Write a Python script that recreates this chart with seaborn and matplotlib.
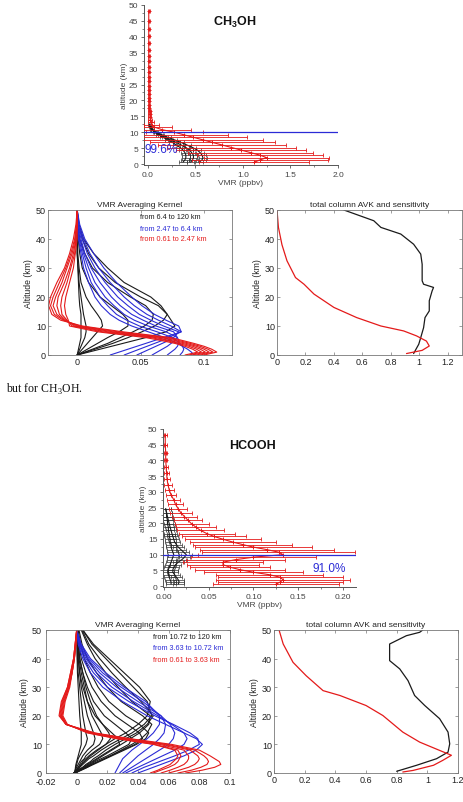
import numpy as np
import pandas as pd
import matplotlib
matplotlib.use("Agg")
import matplotlib.pyplot as plt
import seaborn as sns

# ---------------- data ----------------
# profile levels (km)
lev = [0.6, 1.3, 2.0, 2.8, 3.6, 4.4, 5.2, 6.0, 6.8, 7.6, 8.4, 9.2, 10.0, 10.8, 11.6, 12.4, 13.2, 14.0,
       14.9, 15.8, 16.7, 17.7, 18.7, 19.8, 20.9, 22.1, 23.3, 24.6, 26.0, 27.5, 29.0, 30.6, 32.3, 34.1,
       36.0, 38.0, 40.2, 42.5, 45.0, 48.0]

# CH3OH profile (ppbv)
ch3oh_red = [1.12, 1.18, 1.25, 1.18, 1.08, 0.98, 0.88, 0.78, 0.68, 0.58, 0.48, 0.38, 0.28, 0.15, 0.07,
             0.04, 0.03, 0.025, 0.022, 0.02, 0.018, 0.016, 0.015, 0.014, 0.013, 0.012, 0.012, 0.011,
             0.011, 0.010, 0.010, 0.010, 0.010, 0.010, 0.010, 0.010, 0.010, 0.010, 0.010, 0.010]
ch3oh_red_err = [0.58, 0.72, 0.66, 0.66, 0.66, 0.68, 0.68, 0.67, 0.66, 0.63, 0.56, 0.46, 0.30, 0.30,
                 0.18, 0.08, 0.03, 0.02, 0.015, 0.013, 0.012, 0.011, 0.01, 0.01, 0.01, 0.01, 0.01,
                 0.01, 0.01, 0.01, 0.01, 0.01, 0.01, 0.01, 0.01, 0.01, 0.01, 0.01, 0.01, 0.01]
ch3oh_blk1 = [0.37, 0.39, 0.40, 0.40, 0.39, 0.37, 0.34, 0.30, 0.26, 0.21, 0.16, 0.11, 0.07, 0.04, 0.025, 0.015]
ch3oh_blk2 = [0.45, 0.47, 0.48, 0.48, 0.46, 0.44, 0.40, 0.35, 0.30, 0.24, 0.18, 0.13, 0.08, 0.05, 0.03, 0.02]
ch3oh_blk3 = [0.54, 0.57, 0.58, 0.57, 0.55, 0.52, 0.47, 0.41, 0.35, 0.28, 0.21, 0.15, 0.09, 0.05, 0.03, 0.02]
ch3oh_blk_err = [0.04, 0.04, 0.04, 0.04, 0.04, 0.04, 0.04, 0.04, 0.035, 0.03, 0.03, 0.025, 0.02, 0.015, 0.01, 0.01]

# HCOOH profile (ppbv)
hcooh_red = [0.125, 0.130, 0.133, 0.130, 0.118, 0.100, 0.085, 0.074, 0.066, 0.066, 0.080, 0.100, 0.133,
             0.128, 0.115, 0.100, 0.088, 0.077, 0.066, 0.056, 0.048, 0.041, 0.036, 0.031, 0.027, 0.023,
             0.019, 0.016, 0.013, 0.011, 0.008, 0.006, 0.0045, 0.0035, 0.003, 0.0025, 0.002, 0.002,
             0.0015, 0.0015]
hcooh_red_err = [0.07, 0.07, 0.075, 0.07, 0.06, 0.055, 0.05, 0.045, 0.04, 0.045, 0.055, 0.07, 0.095,
                 0.085, 0.075, 0.065, 0.055, 0.048, 0.042, 0.036, 0.031, 0.026, 0.022, 0.019, 0.016,
                 0.014, 0.012, 0.010, 0.008, 0.007, 0.006, 0.005, 0.004, 0.003, 0.0025, 0.002, 0.002,
                 0.0015, 0.0015, 0.0015]
hcooh_blk1 = [0.008, 0.008, 0.007, 0.006, 0.005, 0.005, 0.005, 0.006, 0.007, 0.008, 0.009, 0.010, 0.011,
              0.010, 0.009, 0.008, 0.008, 0.007, 0.007, 0.006, 0.006, 0.005, 0.005, 0.004, 0.004, 0.003,
              0.003, 0.002]
hcooh_blk2 = [0.016, 0.017, 0.016, 0.014, 0.012, 0.010, 0.010, 0.011, 0.013, 0.016, 0.020, 0.023, 0.025,
              0.022, 0.019, 0.016, 0.014, 0.012, 0.011, 0.010, 0.009, 0.008, 0.007, 0.006, 0.005, 0.004,
              0.003, 0.002]
hcooh_blk_err = 0.006

# averaging kernels: altitude grid (km)
zk = [0, 1, 2, 3, 4, 5, 6, 8, 10, 12, 14, 17, 20, 25, 30, 35, 40, 45, 50]

ch3oh_avk_black = [
    [0, 0.0005, 0.001, 0.0015, 0.002, 0.0025, 0.003, 0.003, 0.003, 0.003, 0.003, 0.002, 0.0015, 0.001, 0.0005, 0, 0, 0, 0],
    [0, 0.001, 0.002, 0.003, 0.004, 0.005, 0.006, 0.007, 0.007, 0.006, 0.005, 0.004, 0.003, 0.0015, 0.0008, 0, 0, 0, 0],
    [0, 0.002, 0.004, 0.006, 0.008, 0.010, 0.012, 0.016, 0.020, 0.019, 0.016, 0.011, 0.007, 0.003, 0.0015, 0.0005, 0, 0, 0],
    [0, 0.004, 0.008, 0.012, 0.016, 0.020, 0.024, 0.033, 0.040, 0.040, 0.036, 0.027, 0.018, 0.009, 0.004, 0.002, 0.0008, 0, 0],
    [0, 0.006, 0.012, 0.018, 0.024, 0.029, 0.034, 0.044, 0.053, 0.059, 0.060, 0.054, 0.042, 0.024, 0.012, 0.006, 0.002, 0.0005, 0],
    [0, 0.007, 0.014, 0.021, 0.028, 0.034, 0.040, 0.051, 0.061, 0.068, 0.071, 0.064, 0.050, 0.030, 0.017, 0.009, 0.004, 0.001, 0],
    [0, 0.009, 0.018, 0.027, 0.036, 0.045, 0.054, 0.070, 0.077, 0.074, 0.071, 0.066, 0.058, 0.037, 0.024, 0.013, 0.005, 0.0015, 0],
]
ch3oh_avk_blue = [
    [0.026, 0.033, 0.040, 0.047, 0.054, 0.061, 0.068, 0.082, 0.080, 0.070, 0.061, 0.051, 0.043, 0.031, 0.021, 0.013, 0.006, 0.002, 0],
    [0.037, 0.043, 0.049, 0.055, 0.061, 0.067, 0.072, 0.082, 0.074, 0.064, 0.055, 0.045, 0.037, 0.026, 0.017, 0.010, 0.005, 0.001, 0],
    [0.047, 0.052, 0.057, 0.062, 0.067, 0.072, 0.076, 0.080, 0.068, 0.058, 0.049, 0.040, 0.032, 0.022, 0.014, 0.008, 0.004, 0.001, 0],
    [0.059, 0.063, 0.067, 0.071, 0.074, 0.077, 0.079, 0.076, 0.062, 0.052, 0.043, 0.034, 0.027, 0.018, 0.011, 0.006, 0.003, 0.0005, 0],
    [0.071, 0.074, 0.077, 0.079, 0.080, 0.080, 0.079, 0.070, 0.056, 0.045, 0.037, 0.029, 0.022, 0.014, 0.009, 0.005, 0.002, 0, 0],
    [0.081, 0.083, 0.084, 0.083, 0.081, 0.078, 0.075, 0.063, 0.049, 0.039, 0.031, 0.024, 0.018, 0.011, 0.007, 0.004, 0.0015, 0, 0],
    [0.092, 0.090, 0.087, 0.083, 0.079, 0.074, 0.069, 0.056, 0.043, 0.033, 0.026, 0.019, 0.014, 0.009, 0.005, 0.003, 0.001, 0, 0],
]
ch3oh_avk_red = [
    [0.100, 0.110, 0.106, 0.100, 0.092, 0.083, 0.074, 0.036, 0.004, -0.013, -0.020, -0.0225, -0.021, -0.016, -0.010, -0.006, -0.003, -0.001, 0],
    [0.097, 0.107, 0.103, 0.097, 0.089, 0.080, 0.070, 0.032, 0.002, -0.011, -0.018, -0.021, -0.019, -0.014, -0.009, -0.005, -0.002, -0.0005, 0],
    [0.094, 0.104, 0.100, 0.094, 0.086, 0.077, 0.066, 0.028, 0.000, -0.010, -0.016, -0.019, -0.017, -0.012, -0.008, -0.004, -0.0015, -0.0005, 0],
    [0.091, 0.101, 0.097, 0.091, 0.083, 0.073, 0.062, 0.024, -0.002, -0.009, -0.014, -0.016, -0.015, -0.010, -0.006, -0.003, -0.001, 0, 0],
    [0.088, 0.098, 0.094, 0.088, 0.080, 0.070, 0.058, 0.020, -0.004, -0.008, -0.012, -0.013, -0.012, -0.008, -0.005, -0.002, -0.001, 0, 0],
    [0.085, 0.095, 0.091, 0.085, 0.077, 0.066, 0.054, 0.016, -0.006, -0.007, -0.009, -0.010, -0.009, -0.006, -0.003, -0.0015, 0, 0, 0],
]

hcooh_avk_black = [
    [-0.001, -0.001, -0.0008, -0.0005, 0, 0.0005, 0.001, 0.002, 0.003, 0.003, 0.003, 0.0025, 0.002, 0.0015, 0.001, 0.0005, 0.0003, 0.0002, 0],
    [-0.001, -0.0008, -0.0005, 0, 0.0005, 0.001, 0.002, 0.004, 0.006, 0.007, 0.006, 0.005, 0.004, 0.003, 0.002, 0.001, 0.0005, 0.0003, 0.0001],
    [-0.0015, -0.001, 0, 0.001, 0.002, 0.003, 0.004, 0.007, 0.011, 0.012, 0.011, 0.009, 0.007, 0.005, 0.003, 0.002, 0.001, 0.0005, 0.0002],
    [-0.0015, -0.0005, 0.001, 0.002, 0.003, 0.005, 0.006, 0.010, 0.015, 0.017, 0.016, 0.013, 0.010, 0.007, 0.005, 0.003, 0.0015, 0.0008, 0.0003],
    [-0.002, 0, 0.001, 0.003, 0.004, 0.006, 0.008, 0.013, 0.019, 0.022, 0.021, 0.017, 0.013, 0.009, 0.006, 0.004, 0.002, 0.001, 0.0005],
    [-0.002, 0.001, 0.004, 0.007, 0.010, 0.013, 0.016, 0.022, 0.028, 0.027, 0.023, 0.017, 0.012, 0.007, 0.004, 0.002, 0.001, 0.0005, 0.0002],
    [-0.002, 0.002, 0.005, 0.009, 0.012, 0.016, 0.020, 0.027, 0.034, 0.036, 0.032, 0.025, 0.018, 0.011, 0.007, 0.004, 0.002, 0.001, 0.0005],
    [-0.002, 0.002, 0.006, 0.010, 0.014, 0.018, 0.022, 0.030, 0.038, 0.043, 0.041, 0.033, 0.025, 0.016, 0.010, 0.006, 0.003, 0.0015, 0.0007],
    [-0.001, 0.003, 0.007, 0.011, 0.015, 0.019, 0.023, 0.031, 0.039, 0.045, 0.047, 0.041, 0.032, 0.021, 0.014, 0.009, 0.005, 0.0025, 0.001],
    [-0.001, 0.003, 0.007, 0.010, 0.014, 0.018, 0.022, 0.029, 0.036, 0.042, 0.046, 0.049, 0.043, 0.029, 0.020, 0.013, 0.007, 0.0035, 0.0015],
    [-0.001, 0.002, 0.005, 0.008, 0.011, 0.014, 0.017, 0.023, 0.029, 0.035, 0.041, 0.047, 0.048, 0.036, 0.027, 0.019, 0.012, 0.007, 0.003],
    [-0.001, 0.001, 0.004, 0.006, 0.009, 0.011, 0.014, 0.019, 0.025, 0.032, 0.039, 0.046, 0.050, 0.042, 0.032, 0.023, 0.015, 0.008, 0.0035],
    [-0.001, 0.001, 0.002, 0.004, 0.006, 0.008, 0.011, 0.016, 0.022, 0.029, 0.036, 0.044, 0.049, 0.046, 0.037, 0.028, 0.019, 0.010, 0.004],
    [-0.001, 0.000, 0.002, 0.003, 0.005, 0.007, 0.009, 0.014, 0.019, 0.025, 0.032, 0.040, 0.046, 0.048, 0.041, 0.031, 0.021, 0.011, 0.004],
]
hcooh_avk_blue = [
    [0.040, 0.045, 0.050, 0.055, 0.060, 0.065, 0.070, 0.078, 0.082, 0.078, 0.070, 0.058, 0.046, 0.030, 0.017, 0.009, 0.004, 0.001, 0],
    [0.036, 0.040, 0.044, 0.049, 0.054, 0.059, 0.064, 0.073, 0.080, 0.079, 0.074, 0.063, 0.051, 0.034, 0.020, 0.011, 0.005, 0.0015, 0],
    [0.032, 0.036, 0.040, 0.044, 0.048, 0.052, 0.056, 0.064, 0.070, 0.072, 0.070, 0.062, 0.053, 0.037, 0.023, 0.013, 0.006, 0.002, 0],
    [0.030, 0.033, 0.036, 0.039, 0.042, 0.045, 0.048, 0.054, 0.060, 0.063, 0.064, 0.061, 0.055, 0.040, 0.026, 0.015, 0.007, 0.002, 0],
    [0.028, 0.030, 0.032, 0.034, 0.036, 0.038, 0.040, 0.045, 0.050, 0.054, 0.057, 0.058, 0.055, 0.043, 0.029, 0.017, 0.008, 0.0025, 0],
    [0.025, 0.026, 0.027, 0.028, 0.029, 0.030, 0.032, 0.036, 0.041, 0.046, 0.050, 0.054, 0.054, 0.045, 0.031, 0.019, 0.009, 0.003, 0],
]
hcooh_avk_red = [
    [0.071, 0.082, 0.090, 0.094, 0.093, 0.090, 0.087, 0.080, 0.062, 0.035, 0.012, -0.007, -0.0115, -0.010, -0.006, -0.004, -0.002, -0.001, 0],
    [0.066, 0.075, 0.081, 0.085, 0.086, 0.085, 0.083, 0.077, 0.059, 0.033, 0.011, -0.007, -0.011, -0.0095, -0.006, -0.004, -0.002, -0.001, 0],
    [0.060, 0.067, 0.073, 0.077, 0.079, 0.080, 0.079, 0.074, 0.057, 0.031, 0.010, -0.007, -0.0105, -0.009, -0.0055, -0.0035, -0.002, -0.001, 0],
    [0.055, 0.061, 0.066, 0.070, 0.072, 0.073, 0.073, 0.070, 0.054, 0.029, 0.009, -0.007, -0.010, -0.0085, -0.005, -0.003, -0.0015, -0.0005, 0],
    [0.050, 0.055, 0.060, 0.064, 0.066, 0.067, 0.068, 0.066, 0.051, 0.027, 0.008, -0.0065, -0.0095, -0.008, -0.005, -0.003, -0.0015, -0.0005, 0],
    [0.048, 0.053, 0.057, 0.061, 0.063, 0.065, 0.066, 0.064, 0.050, 0.026, 0.007, -0.006, -0.009, -0.0075, -0.0045, -0.003, -0.0015, -0.0005, 0],
]

# total column AVK (black) and sensitivity (red)
ch3oh_tc_alt = [50, 46.3, 44, 41.7, 38.2, 34.8, 31.3, 25.6, 24.4, 23.3, 22.1, 18.7, 15.2, 12.9, 9.4, 6, 3.7, 1.4, 0.5]
ch3oh_tc_avk = [0.47, 0.68, 0.73, 0.87, 0.96, 1.01, 1.02, 1.02, 1.03, 1.10, 1.09, 1.07, 1.07, 1.04, 1.03, 1.01, 0.996, 0.97, 0.96]
ch3oh_sens_alt = [50, 44, 38, 32.5, 26.7, 24.4, 21, 16.4, 12.9, 10, 8.3, 6.6, 4.8, 3.1, 1.6, 0.8, 0.5]
ch3oh_sens = [0.0, 0.01, 0.035, 0.07, 0.13, 0.19, 0.26, 0.40, 0.56, 0.73, 0.89, 0.98, 1.05, 1.07, 1.02, 0.94, 0.91]
hcooh_tc_alt = [50, 49.2, 48, 45.1, 39.3, 36.4, 32.3, 27.1, 23.6, 19, 14.3, 10.2, 7.3, 5, 2.7, 0.6]
hcooh_tc_avk = [0.97, 0.95, 0.863, 0.754, 0.754, 0.82, 0.874, 0.917, 0.983, 1.08, 1.135, 1.146, 1.135, 1.06, 0.93, 0.80]
hcooh_sens_alt = [50, 45.1, 38.7, 34, 28.8, 27.1, 23.6, 20.1, 14.3, 10.8, 7.9, 6.2, 4.4, 2.7, 0.9, 0.35]
hcooh_sens = [0.033, 0.06, 0.124, 0.21, 0.32, 0.43, 0.60, 0.71, 0.84, 0.95, 1.08, 1.157, 1.10, 1.04, 0.907, 0.84]

# ---------------- style ----------------
W, H = 464, 803
sns.set_style("ticks")
plt.rcParams['font.family'] = ['Liberation Sans', 'DejaVu Sans']
plt.rcParams['axes.linewidth'] = 0.6

RED = '#e41a1a'
BLUE = '#2b2bd6'
BLK = '#1a1a1a'
GREY = '#444444'

fig = plt.figure(figsize=(W / 100, H / 100), dpi=100)


def add_ax(l, t, r, b):
    return fig.add_axes([l / W, 1 - b / H, (r - l) / W, (b - t) / H])


def style_profile(ax, xlim, xticks, fmt, xminor):
    ax.set_xlim(*xlim)
    ax.set_ylim(-0.3, 50)
    ax.spines['top'].set_visible(False)
    ax.spines['right'].set_visible(False)
    for s in ('left', 'bottom'):
        ax.spines[s].set_color('#555555')
        ax.spines[s].set_linewidth(0.7)
    ax.set_yticks(range(0, 51, 5))
    ax.set_yticks(np.arange(2.5, 50, 5), minor=True)
    ax.set_xticks(xticks)
    ax.set_xticklabels([fmt % t for t in xticks])
    ax.set_xticks(xminor, minor=True)
    ax.tick_params(which='major', direction='out', length=2.5, width=0.6, labelsize=6,
                   labelcolor=GREY, color='#555555', pad=1.5)
    ax.tick_params(which='minor', direction='out', length=1.5, width=0.5, color='#555555')
    ax.set_ylabel('altitude (km)', fontsize=6, color=GREY, labelpad=1)
    ax.set_xlabel('VMR (ppbv)', fontsize=6, color=GREY, labelpad=1)


def style_matlab(ax, xlim, xticks, xlabels, title):
    ax.set_xlim(*xlim)
    ax.set_ylim(0, 50)
    for s in ax.spines.values():
        s.set_visible(True)
        s.set_color('#777777')
        s.set_linewidth(0.6)
    ax.set_xticks(xticks)
    ax.set_xticklabels(xlabels)
    ax.set_yticks(range(0, 51, 10))
    ax.tick_params(direction='in', top=True, right=True, length=2.5, width=0.5,
                   labelsize=6.5, color='#777777', labelcolor='#222222', pad=1.5)
    ax.set_ylabel('Altitude (km)', fontsize=6.2, color='#222222', labelpad=2)
    ax.set_xlabel('')
    ax.set_title(title, fontsize=6, color='#222222', pad=3)


def draw_profile(ax, red, red_err, blacks, blk_err):
    nb = len(blacks[0])
    for bl in blacks:
        e = blk_err if np.ndim(blk_err) else [blk_err] * nb
        ax.errorbar(bl, lev[:nb], xerr=e, fmt='none', ecolor='#333333', elinewidth=0.5,
                    capsize=1.2, capthick=0.5, zorder=2)
        sns.lineplot(x=bl, y=lev[:nb], sort=False, estimator=None, color=BLK, lw=0.8, ax=ax, zorder=3)
    ax.errorbar(red, lev, xerr=red_err, fmt='none', ecolor=RED, elinewidth=0.6,
                capsize=1.5, capthick=0.6, zorder=4)
    sns.lineplot(x=red, y=lev, sort=False, estimator=None, color=RED, lw=0.8, marker='+',
                 markersize=3.5, mec=RED, mew=0.7, ax=ax, zorder=5)
    ax.axhline(10, color=BLUE, lw=0.9, zorder=6)


def draw_kernels(ax, groups):
    for kernels, color in groups:
        rows = []
        for i, k in enumerate(kernels):
            for z, v in zip(zk, k):
                rows.append({'kernel': i, 'alt': z, 'avk': v})
        df = pd.DataFrame(rows)
        sns.lineplot(data=df, x='avk', y='alt', units='kernel', estimator=None, sort=False,
                     color=color, lw=0.8, ax=ax, legend=False)


# ---------------- panel 1: CH3OH profile ----------------
ax1 = add_ax(144, 6, 338, 166)
draw_profile(ax1, ch3oh_red, ch3oh_red_err, [ch3oh_blk1, ch3oh_blk2, ch3oh_blk3], ch3oh_blk_err)
style_profile(ax1, (-0.04, 2.0), [0.0, 0.5, 1.0, 1.5, 2.0], '%.1f', np.arange(0.25, 2.0, 0.5))
ax1.text(0.14, 4.7, '99.6%', color=BLUE, fontsize=8.5, ha='center', va='center', zorder=7)
ax1.text(0.47, 0.9, r'CH$_{\mathregular{3}}$OH', transform=ax1.transAxes, fontsize=9,
         fontweight='bold', ha='center', va='center', color='#111111')

# ---------------- panel 2: CH3OH AVK ----------------
ax2 = add_ax(48, 211, 232, 356)
draw_kernels(ax2, [(ch3oh_avk_black, BLK), (ch3oh_avk_blue, BLUE), (ch3oh_avk_red, RED)])
style_matlab(ax2, (-0.023, 0.122), [0, 0.05, 0.1], ['0', '0.05', '0.1'], 'VMR Averaging Kernel')
for yf, txt, c in [(0.955, 'from 6.4 to 120 km', BLK), (0.875, 'from 2.47 to 6.4 km', BLUE),
                   (0.80, 'from 0.61 to 2.47 km', RED)]:
    ax2.text(0.5, yf, txt, color=c, fontsize=5.2, transform=ax2.transAxes, va='center')

# ---------------- panel 3: CH3OH total column ----------------
ax3 = add_ax(277, 211, 462, 356)
sns.lineplot(x=ch3oh_tc_avk, y=ch3oh_tc_alt, sort=False, estimator=None, color=BLK, lw=0.9, ax=ax3)
sns.lineplot(x=ch3oh_sens, y=ch3oh_sens_alt, sort=False, estimator=None, color=RED, lw=0.9, ax=ax3)
style_matlab(ax3, (0, 1.3), [0, 0.2, 0.4, 0.6, 0.8, 1.0, 1.2],
             ['0', '0.2', '0.4', '0.6', '0.8', '1', '1.2'], 'total column AVK and sensitivity')

# caption fragment
fig.text(6 / W, 1 - 389 / H, r'but for CH$_{\mathregular{3}}$OH.', fontsize=8.5,
         family=['Liberation Serif', 'DejaVu Serif'], va='center', ha='left', color='#111111')

# ---------------- panel 4: HCOOH profile ----------------
ax4 = add_ax(163, 430, 356, 588)
draw_profile(ax4, hcooh_red, hcooh_red_err, [hcooh_blk1, hcooh_blk2], hcooh_blk_err)
style_profile(ax4, (-0.001, 0.2145), [0.0, 0.05, 0.10, 0.15, 0.20], '%.2f', np.arange(0.025, 0.21, 0.05))
ax4.text(0.185, 5.7, '91.0%', color=BLUE, fontsize=8.5, ha='center', va='center', zorder=7)
ax4.text(0.465, 0.9, 'HCOOH', transform=ax4.transAxes, fontsize=9, fontweight='bold',
         ha='center', va='center', color='#111111')

# ---------------- panel 5: HCOOH AVK ----------------
ax5 = add_ax(46, 631, 230, 774)
draw_kernels(ax5, [(hcooh_avk_black, BLK), (hcooh_avk_blue, BLUE), (hcooh_avk_red, RED)])
style_matlab(ax5, (-0.02, 0.1), [-0.02, 0, 0.02, 0.04, 0.06, 0.08, 0.1],
             ['-0.02', '0', '0.02', '0.04', '0.06', '0.08', '0.1'], 'VMR Averaging Kernel')
ax5.tick_params(axis='x', pad=3)
ax5.tick_params(axis='y', pad=3)
for yf, txt, c in [(0.955, 'from 10.72 to 120 km', BLK), (0.875, 'from 3.63 to 10.72 km', BLUE),
                   (0.797, 'from 0.61 to 3.63 km', RED)]:
    ax5.text(0.583, yf, txt, color=c, fontsize=5.2, transform=ax5.transAxes, va='center')

# ---------------- panel 6: HCOOH total column ----------------
ax6 = add_ax(274, 631, 458, 774)
sns.lineplot(x=hcooh_tc_avk, y=hcooh_tc_alt, sort=False, estimator=None, color=BLK, lw=0.9, ax=ax6)
sns.lineplot(x=hcooh_sens, y=hcooh_sens_alt, sort=False, estimator=None, color=RED, lw=0.9, ax=ax6)
style_matlab(ax6, (0, 1.2), [0, 0.2, 0.4, 0.6, 0.8, 1.0, 1.2],
             ['0', '0.2', '0.4', '0.6', '0.8', '1', '1.2'], 'total column AVK and sensitivity')

fig.savefig('out.png', dpi=100)
